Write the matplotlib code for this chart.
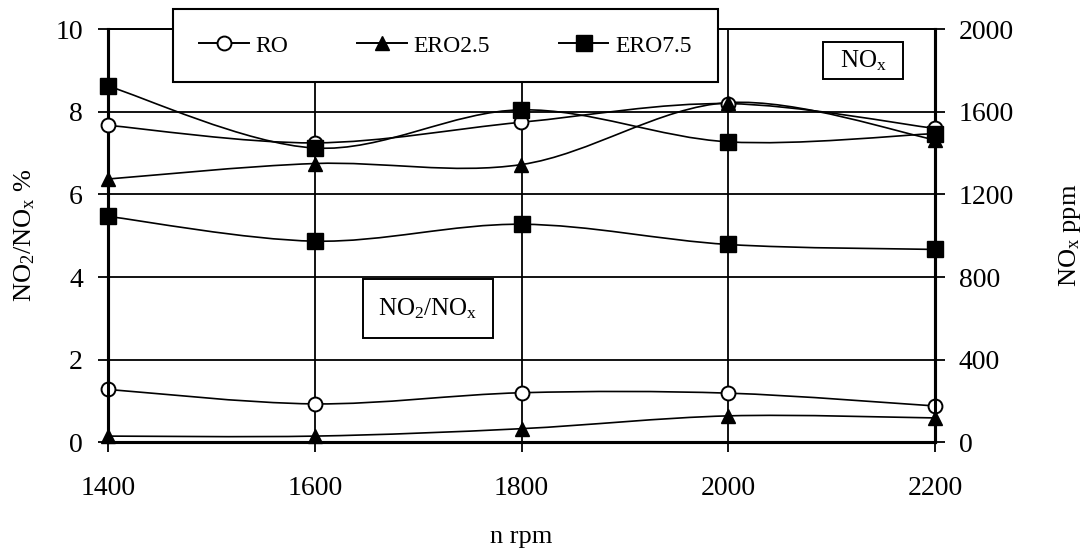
import numpy as np
import matplotlib
matplotlib.use("Agg")
import matplotlib.pyplot as plt
from matplotlib.path import Path
from matplotlib.patches import PathPatch, Rectangle
from matplotlib.lines import Line2D

# -----------------------
# Data
# -----------------------
rpm = [1400, 1600, 1800, 2000, 2200]

# NO2/NOx ratio, % (left axis)
ratio_ro = [1.28, 0.93, 1.20, 1.19, 0.88]
ratio_ero25 = [0.15, 0.15, 0.33, 0.64, 0.59]
ratio_ero75 = [5.47, 4.87, 5.28, 4.79, 4.67]

# NOx, ppm (right axis)
nox_ro = [1535, 1450, 1550, 1640, 1520]
nox_ero25 = [1275, 1350, 1345, 1645, 1465]
nox_ero75 = [1725, 1425, 1610, 1455, 1495]

series_names = ["RO", "ERO2.5", "ERO7.5"]

plt.rcParams["font.family"] = ["Liberation Serif", "DejaVu Serif"]
plt.rcParams["mathtext.fontset"] = "custom"
plt.rcParams["mathtext.rm"] = "Liberation Serif"
plt.rcParams["mathtext.it"] = "Liberation Serif:italic"

W, H = 1085, 549
TICK_FS = 20
LABEL_FS = 19

styles = {
    "RO": dict(marker="o", markersize=10, markerfacecolor="white", markeredgewidth=1.4),
    "ERO2.5": dict(marker="^", markersize=10.5, markerfacecolor="black"),
    "ERO7.5": dict(marker="s", markersize=11, markerfacecolor="black"),
}


def smooth_path(xs, ys):
    # excel-like smoothed line: cubic bezier segments through the points
    pts = np.column_stack([xs, ys]).astype(float)
    n = len(pts)
    verts = [pts[0]]
    codes = [Path.MOVETO]
    for i in range(n - 1):
        p0 = pts[i - 1] if i > 0 else pts[i]
        p1 = pts[i]
        p2 = pts[i + 1]
        p3 = pts[i + 2] if i + 2 < n else pts[i + 1]
        c1 = p1 + (p2 - p0) / 6.0
        c2 = p2 - (p3 - p1) / 6.0
        verts += [c1, c2, p2]
        codes += [Path.CURVE4] * 3
    return Path(verts, codes)


def draw_series(ax, xs, ys, name):
    patch = PathPatch(smooth_path(xs, ys), fill=False, edgecolor="black", lw=1.2, zorder=3)
    ax.add_patch(patch)
    ax.plot(xs, ys, linestyle="none", color="black", zorder=4, clip_on=False, **styles[name])


def px_box(fig, x0, y0, x1, y1, label, fs):
    # framed label placed in figure pixels (top-left origin)
    fig.patches.append(Rectangle((x0 / W, 1 - y1 / H), (x1 - x0) / W, (y1 - y0) / H,
                                 transform=fig.transFigure, facecolor="white",
                                 edgecolor="black", lw=1.4, zorder=5))
    fig.text((x0 + x1) / 2 / W, 1 - (y0 + y1) / 2 / H, label, fontsize=fs,
             ha="center", va="center", zorder=6)


fig = plt.figure(figsize=(W / 100, H / 100), dpi=100)
ax = fig.add_axes([108 / W, 1 - 442.3 / H, (935 - 108) / W, (442.3 - 29.3) / H])
ax2 = ax.twinx()

# left axis: NO2/NOx
ax.set_xlim(1400, 2200)
ax.set_ylim(0, 10)
ax.set_xticks(rpm)
ax.set_yticks(np.arange(0, 11, 2))
ax.grid(True, color="black", lw=1.3)
ax.set_axisbelow(True)
for name, ys in zip(series_names, [ratio_ro, ratio_ero25, ratio_ero75]):
    draw_series(ax, rpm, ys, name)

# right axis: NOx
ax2.set_ylim(0, 2000)
ax2.set_yticks(np.arange(0, 2001, 400))
for name, ys in zip(series_names, [nox_ro, nox_ero25, nox_ero75]):
    draw_series(ax2, rpm, ys, name)

for a in (ax, ax2):
    a.tick_params(direction="out", length=7, width=1.3, labelsize=TICK_FS, color="black")
    for side in ("left", "right", "bottom"):
        a.spines[side].set_linewidth(2.2)
    a.spines["top"].set_linewidth(1.3)
ax.tick_params(axis="x", pad=17)
ax.tick_params(axis="y", pad=11)
ax2.tick_params(axis="y", pad=10)

ax.set_xlabel("n rpm", fontsize=LABEL_FS, labelpad=18)
ax.set_ylabel(r"NO$_{\mathrm{2}}$/NO$_{\mathrm{x}}$ %", fontsize=LABEL_FS, labelpad=13)
ax2.set_ylabel(r"NO$_{\mathrm{x}}$ ppm", fontsize=LABEL_FS, labelpad=31)

# framed labels
px_box(fig, 823, 42, 903, 79, r"NO$_{\mathrm{x}}$", 18)
px_box(fig, 363, 279, 493, 338, r"NO$_{\mathrm{2}}$/NO$_{\mathrm{x}}$", 18)

# legend
handles = [Line2D([], [], color="black", lw=1.4, **styles[n]) for n in series_names]
leg = ax2.legend(handles, series_names, loc="upper left",
                 bbox_to_anchor=(173 / W, 1 - 9 / H, 545 / W, 0),
                 bbox_transform=fig.transFigure, mode="expand", ncol=3, fontsize=17,
                 frameon=True, fancybox=False, edgecolor="black", framealpha=1,
                 handlelength=2.1, handletextpad=0.3, borderpad=1.1, borderaxespad=0)
leg.get_frame().set_linewidth(1.5)
leg.set_zorder(10)

fig.savefig("out.png", dpi=100)
